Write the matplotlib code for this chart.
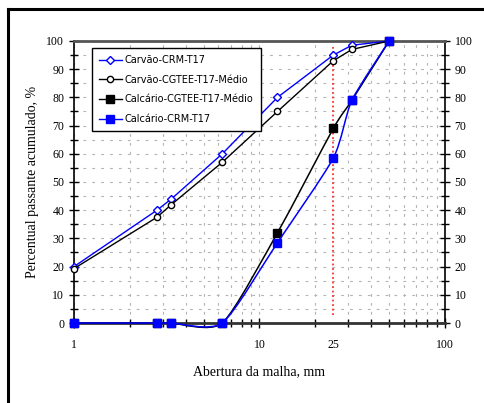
import numpy as np
import matplotlib.pyplot as plt
from matplotlib.path import Path
from matplotlib.patches import PathPatch
from matplotlib.lines import Line2D
from matplotlib.ticker import FixedLocator, NullFormatter

# Sieve openings (mm) and cumulative passing (%)
abertura = [1, 2.8, 3.35, 6.3, 12.5, 25, 31.5, 50]
carvao_crm = [20, 40, 44, 60, 80, 95, 98.5, 100]
carvao_cgtee = [19.3, 37.5, 42, 57, 75, 93, 97, 100]
calcario_cgtee = [0, 0, 0, 0, 32, 69, 79, 100]
calcario_crm = [0, 0, 0, 0, 28.5, 58.5, 79, 100]

nomes = ["Carvão-CRM-T17", "Carvão-CGTEE-T17-Médio",
         "Calcário-CGTEE-T17-Médio", "Calcário-CRM-T17"]

corte = 25          # reference opening marked with a dotted line
corte_faixa = [3, 98]

serif = ['Liberation Serif', 'DejaVu Serif']
narrow = ['Liberation Sans Narrow', 'DejaVu Sans']


def curva_suave(x, y, k=1 / 9):
    # smooth line through the points (cubic Bezier, tangents taken in log-x space)
    p = np.column_stack([np.log10(x), y]).astype(float)
    n = len(p)
    verts = [p[0]]
    codes = [Path.MOVETO]
    for i in range(n - 1):
        p0 = p[i - 1] if i > 0 else p[i]
        p1, p2 = p[i], p[i + 1]
        p3 = p[i + 2] if i + 2 < n else p[i + 1]
        verts += [p1 + (p2 - p0) * k, p2 - (p3 - p1) * k, p2]
        codes += [Path.CURVE4] * 3
    verts = np.array(verts)
    verts[:, 0] = 10 ** verts[:, 0]
    return Path(verts, codes)


fig = plt.figure(figsize=(4.85, 4.03), dpi=100)
ax = fig.add_axes([0.1526, 0.1985, 0.7649, 0.6998])

ax.set_xscale('log')
ax.set_xlim(1, 100)
ax.set_ylim(0, 100)

# grid
ax.xaxis.set_minor_locator(FixedLocator([2, 3, 4, 5, 6, 7, 8, 9, 20, 30, 40, 50, 60, 70, 80, 90]))
ax.xaxis.set_minor_formatter(NullFormatter())
ax.set_xticks([1, 10, 100])
ax.set_xticklabels(['1', '10', '100'])
ax.set_yticks(np.arange(0, 101, 10))
ax.set_yticks(np.arange(5, 100, 10), minor=True)
ax.grid(True, which='both', color='#b4b4b4', linestyle=(0, (2.5, 5.5)), linewidth=0.8)
ax.set_axisbelow(True)

ax.tick_params(which='both', direction='inout', colors='black', left=True, right=True,
               labelright=True, top=False, width=1)
ax.tick_params(which='major', length=7)
ax.tick_params(which='minor', length=6)
ax.tick_params(axis='x', which='major', pad=8)
for lab in ax.get_xticklabels() + ax.get_yticklabels():
    lab.set_family(serif)
    lab.set_fontsize(8.5)
for tk in ax.yaxis.get_major_ticks():
    tk.label2.set_family(serif)
    tk.label2.set_fontsize(8.5)

ax.text(corte, -0.055, '25', transform=ax.get_xaxis_transform(), ha='center', va='top',
        family=serif, fontsize=8.5)

for side, col, lw in [('top', '#555555', 2), ('bottom', '#333333', 2),
                      ('left', 'black', 1.2), ('right', 'black', 1.2)]:
    ax.spines[side].set_color(col)
    ax.spines[side].set_linewidth(lw)

ax.set_xlabel('Abertura da malha, mm', family=serif, fontsize=10, labelpad=10)
ax.set_ylabel('Percentual passante acumulado, %', family=serif, fontsize=10, labelpad=5)

# coal series: straight lines with open markers
ax.plot(abertura, carvao_crm, '-', color='#0000ff', lw=1, marker='D', ms=4.5,
        mfc='white', mec='#0000ff', mew=1, clip_on=False, zorder=3)
ax.plot(abertura, carvao_cgtee, '-', color='black', lw=1, marker='o', ms=4.5,
        mfc='white', mec='black', mew=1, clip_on=False, zorder=3)

# limestone series: smoothed lines with filled squares
for ys, cor, z in [(calcario_cgtee, 'black', 4), (calcario_crm, '#0000ff', 5)]:
    ax.add_patch(PathPatch(curva_suave(abertura, ys), fill=False, edgecolor=cor,
                           lw=1.1, clip_on=False, zorder=z))
    ax.plot(abertura, ys, 's', color=cor, ms=6, clip_on=False, zorder=z)

ax.plot([corte, corte], corte_faixa, color='#ff3030', linestyle=(0, (1, 1.5)), lw=1.3, zorder=2)

handles = [
    Line2D([], [], color='#0000ff', lw=1, marker='D', ms=4.5, mfc='white', mec='#0000ff'),
    Line2D([], [], color='black', lw=1, marker='o', ms=4.5, mfc='white', mec='black'),
    Line2D([], [], color='black', lw=1, marker='s', ms=6),
    Line2D([], [], color='#0000ff', lw=1, marker='s', ms=6),
]
leg = ax.legend(handles, nomes, loc='upper left', bbox_to_anchor=(0.0485, 0.975),
                borderaxespad=0, fancybox=False, edgecolor='black', framealpha=1,
                prop={'family': narrow, 'size': 7},
                handlelength=2.3, handletextpad=0.3, labelspacing=0.98, borderpad=0.75)
leg.get_frame().set_linewidth(1)
leg.set_zorder(6)

# outer frame lines (left and top)
fig.add_artist(Line2D([0.0155, 0.0155], [0.0, 0.978], color='black', lw=2.2,
                      transform=fig.transFigure))
fig.add_artist(Line2D([0.0155, 1.0], [0.978, 0.978], color='black', lw=2.2,
                      transform=fig.transFigure))

fig.savefig('out.png', dpi=100)
